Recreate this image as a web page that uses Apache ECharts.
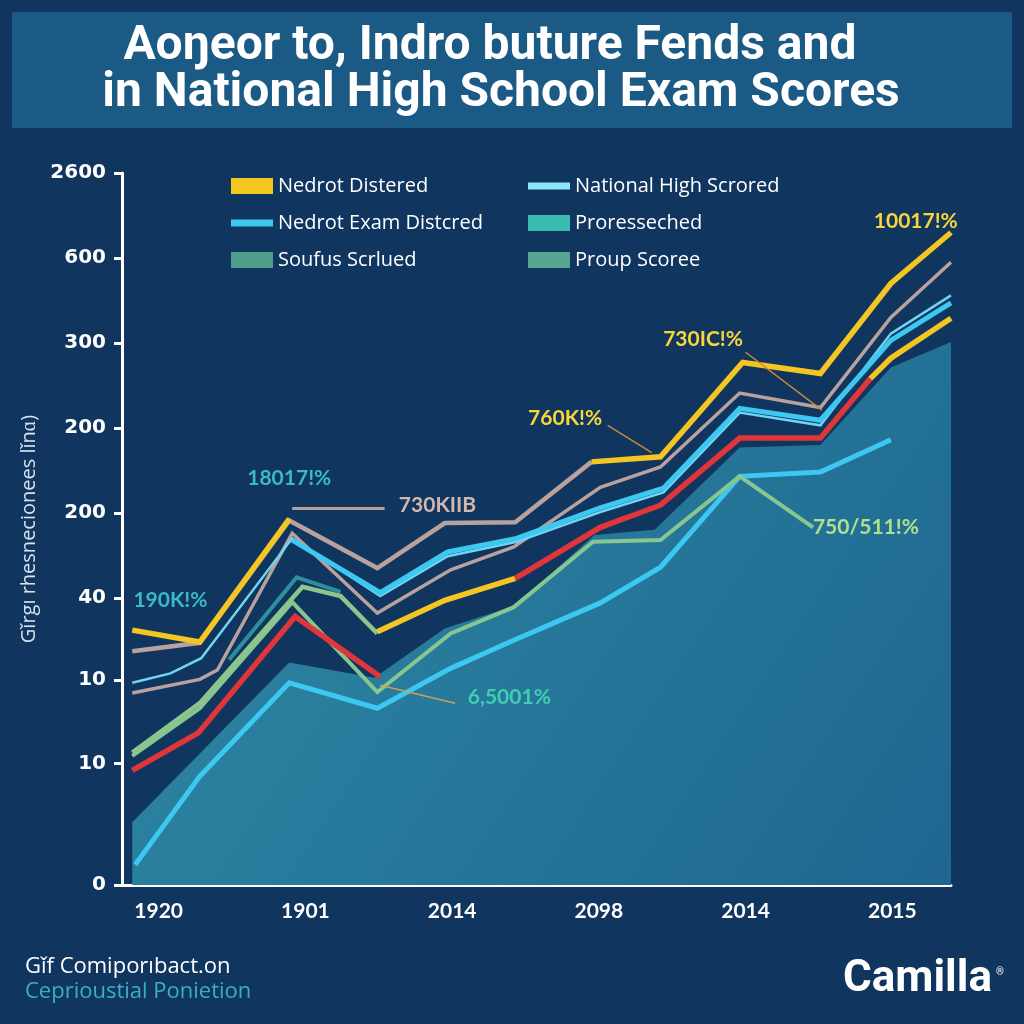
<!DOCTYPE html>
<html><head><meta charset="utf-8">
<script src="https://cdn.jsdelivr.net/npm/echarts@6/dist/echarts.min.js"></script>
<style>html,body{margin:0;padding:0;background:#10355f;}#c{width:1024px;height:1024px;}</style>
</head><body><div id="c"></div>
<script>
// ---- axis ticks ----
const xTickValues = [0, 1, 2, 3, 4, 5];
const xTickLabels = ['1920', '1901', '2014', '2098', '2014', '2015'];
const yTickValues = [0, 1.43, 2.41, 3.38, 4.38, 5.38, 6.38, 7.38, 8.38];
const yTickLabels = ['0', '10', '10', '40', '200', '200', '300', '600', '2600'];

// ---- series values (x position on year scale, y on score scale) ----
const yellowAX = [-0.18, 0.28, 0.89];
const yellowAY = [3.00, 2.86, 4.31];
const yellowBX = [2.95, 3.42, 3.98, 4.51, 4.99, 5.40];
const yellowBY = [4.98, 5.04, 6.15, 6.02, 7.08, 7.68];
const yellowCX = [1.49, 1.95, 2.43];
const yellowCY = [2.98, 3.35, 3.61];
const yellowDX = [4.85, 4.99, 5.40];
const yellowDY = [5.96, 6.20, 6.67];
const taupeAX = [-0.18, 0.28, 0.89, 1.49, 1.95, 2.43, 2.95];
const taupeAY = [2.75, 2.85, 4.29, 3.73, 4.26, 4.27, 4.98];
const taupeBX = [-0.18, 0.28, 0.40, 0.91, 1.49, 1.99, 2.42, 3.01, 3.42, 3.96, 4.51, 4.99, 5.40];
const taupeBY = [2.26, 2.42, 2.53, 4.14, 3.20, 3.71, 3.98, 4.68, 4.92, 5.79, 5.62, 6.68, 7.33];
const cyanX = [0.91, 1.51, 1.97, 2.44, 3.01, 3.44, 3.96, 4.51, 4.99, 5.40];
const cyanY = [4.06, 3.44, 3.92, 4.08, 4.44, 4.67, 5.61, 5.47, 6.41, 6.85];
const nationalX = [-0.18, 0.08, 0.29, 0.91, 1.51, 1.97, 2.44, 3.01, 3.44, 3.96, 4.51, 4.99, 5.40];
const nationalY = [2.38, 2.49, 2.67, 4.08, 3.40, 3.87, 4.04, 4.39, 4.62, 5.56, 5.41, 6.49, 6.94];
const soufusX = [-0.18, 0.28, 0.98, 1.24, 1.49];
const soufusY = [1.56, 2.14, 3.51, 3.40, 2.96];
const redAX = [-0.18, 0.27, 0.93, 1.51];
const redAY = [1.35, 1.79, 3.16, 2.45];
const redBX = [2.43, 3.01, 3.42, 3.96, 4.51, 4.85];
const redBY = [3.61, 4.21, 4.47, 5.26, 5.26, 5.96];
const proupX = [-0.18, 0.28, 0.91, 1.37, 1.49, 1.99, 2.42, 2.96, 3.42, 3.96, 4.46];
const proupY = [1.52, 2.08, 3.33, 2.49, 2.27, 2.96, 3.27, 4.04, 4.06, 4.81, 4.21];
const tealX = [0.48, 0.94, 1.24];
const tealY = [2.65, 3.62, 3.45];
const cyanLowX = [-0.16, 0.28, 0.89, 1.49, 1.99, 2.42, 3.01, 3.42, 3.96, 4.51, 4.99];
const cyanLowY = [0.24, 1.28, 2.38, 2.08, 2.55, 2.88, 3.32, 3.74, 4.81, 4.86, 5.24];
const areaX = [-0.18, 0.89, 1.47, 1.95, 2.43, 2.97, 3.38, 3.96, 4.51, 4.99, 5.40];
const areaY = [0.74, 2.62, 2.44, 3.02, 3.29, 4.12, 4.18, 5.15, 5.18, 6.09, 6.39];

// ---- annotations ----
const noteTexts = ['18017!%', '730KIIB', '190K!%', '760K!%', '730IC!%', '10017!%', '750/511!%', '6,5001%'];
const noteX = [0.89, 1.90, 0.08, 2.77, 3.71, 5.16, 4.82, 2.39];
const noteY = [4.79, 4.47, 3.35, 5.49, 6.42, 7.81, 4.21, 2.21];
const noteColors = ['#3ab9c8', '#d2b6b0', '#3ab9c8', '#f7d63c', '#f7d63c', '#f7d63c', '#b0e08e', '#42cdb2'];
const leaderFromX = [0.91, 3.06, 4.00, 1.51];
const leaderFromY = [4.44, 5.41, 6.27, 2.35];
const leaderToX = [1.54, 3.36, 4.52, 2.02];
const leaderToY = [4.44, 5.09, 5.59, 2.14];
const leaderColors = ['#b9a09b', '#c98a3a', '#c98a3a', '#c8a060'];
const leaderWidths = [3, 1.5, 1.5, 1.5];

const zip = (xs, ys) => xs.map((x, i) => [x, ys[i]]);

function lineSeries(name, xs, ys, color, width) {
  return {
    name: name, type: 'line', data: zip(xs, ys), symbol: 'none', silent: true,
    lineStyle: { color: color, width: width, join: 'miter' }, itemStyle: { color: color },
    clip: false, z: 3
  };
}

const chart = echarts.init(document.getElementById('c'), null, { renderer: 'canvas' });

const notesSeries = {
  name: 'notes', type: 'scatter', silent: true, symbolSize: 0, z: 10,
  itemStyle: { color: '#10355f', opacity: 1 },
  data: noteTexts.map((t, i) => ({
    value: [noteX[i], noteY[i]],
    label: { show: true, position: 'inside', formatter: t, color: noteColors[i], opacity: 1,
      fontFamily: 'Lato', fontWeight: 'bold', fontSize: 21 }
  })),
  markLine: {
    silent: true, symbol: ['none', 'none'], label: { show: false },
    data: leaderFromX.map((x, i) => [
      { coord: [x, leaderFromY[i]], lineStyle: { color: leaderColors[i], width: leaderWidths[i], type: 'solid', opacity: 1 } },
      { coord: [leaderToX[i], leaderToY[i]] }
    ])
  }
};

const legendText = { color: '#ffffff', fontSize: 20, fontFamily: 'Open Sans', lineHeight: 22 };
const thick = 'path://M0 0H42V16H0Z';
const thin = 'path://M0 0H42V7H0Z';

const option = {
  backgroundColor: '#10355f',
  animation: false,
  grid: { left: 122, right: 73, top: 173, bottom: 139, containLabel: false, outerBoundsMode: 'none' },
  legend: [
    { orient: 'vertical', left: 226, top: 170, itemWidth: 42, itemHeight: 16, itemGap: 15,
      textStyle: legendText, selectedMode: false,
      data: [
        { name: 'Nedrot Distered', icon: thick, itemStyle: { color: '#f5c622', borderWidth: 0 } },
        { name: 'Nedrot Exam Distcred', icon: thin, itemStyle: { color: '#3cc8f0', borderWidth: 0 } },
        { name: 'Soufus Scrlued', icon: thick, itemStyle: { color: '#4f9e8b', borderWidth: 0 } }
      ] },
    { orient: 'vertical', left: 523, top: 170, itemWidth: 42, itemHeight: 16, itemGap: 15,
      textStyle: legendText, selectedMode: false,
      data: [
        { name: 'National High Scrored', icon: thin, itemStyle: { color: '#8be6f6', borderWidth: 0 } },
        { name: 'Proresseched', icon: thick, itemStyle: { color: '#3bbcae', borderWidth: 0 } },
        { name: 'Proup Scoree', icon: thick, itemStyle: { color: '#56a58e', borderWidth: 0 } }
      ] }
  ],
  xAxis: {
    type: 'value', min: -0.25, max: 5.40,
    axisLine: { show: true, onZero: false, lineStyle: { color: '#ffffff', width: 3 } },
    axisTick: { show: true, inside: true, length: 8, lineStyle: { color: '#ffffff', width: 3 }, customValues: xTickValues },
    axisLabel: { customValues: xTickValues, margin: 16, color: '#ffffff', fontSize: 21, fontWeight: 'bold',
      fontFamily: 'Lato',
      formatter: v => xTickLabels[Math.round(v)] },
    splitLine: { show: false }
  },
  yAxis: {
    type: 'value', min: 0, max: 8.38,
    name: 'Gǐrgı rhesnecionees lǐnɑ)', nameLocation: 'middle', nameGap: 78, nameRotate: 90,
    nameTextStyle: { color: '#d6e2ee', fontSize: 20, fontFamily: 'Open Sans' },
    axisLine: { show: true, onZero: false, lineStyle: { color: '#ffffff', width: 3 } },
    axisTick: { show: true, inside: false, length: 8, lineStyle: { color: '#ffffff', width: 3 }, customValues: yTickValues },
    axisLabel: { customValues: yTickValues, margin: 16, color: '#ffffff', fontSize: 20, fontWeight: 'bold',
      fontFamily: 'DejaVu Sans',
      formatter: v => {
        let best = 0;
        yTickValues.forEach((t, i) => { if (Math.abs(t - v) < Math.abs(yTickValues[best] - v)) best = i; });
        return yTickLabels[best];
      } },
    splitLine: { show: false }
  },
  series: [
    { name: 'Proresseched', type: 'line', data: zip(areaX, areaY), symbol: 'none', silent: true,
      lineStyle: { width: 0 }, itemStyle: { color: '#3bbcae' }, z: 1,
      areaStyle: { opacity: 1, color: new echarts.graphic.LinearGradient(0, 0, 1, 1, [
        { offset: 0, color: '#2f8aa4' }, { offset: 1, color: '#1e6690' }]) } },
    lineSeries('Nedrot Exam Distcred', cyanLowX, cyanLowY, '#3cc8f0', 5),
    lineSeries('Proup Scoree', proupX, proupY, '#86c690', 4),
    lineSeries('teal', tealX, tealY, '#2d8f9c', 4),
    lineSeries('Soufus Scrlued', soufusX, soufusY, '#8cc68c', 4.5),
    lineSeries('red', redAX, redAY, '#e0363a', 5.5),
    lineSeries('taupe2', taupeBX, taupeBY, '#b9a19e', 3.5),
    lineSeries('National High Scrored', nationalX, nationalY, '#6fd6f2', 2.5),
    lineSeries('Nedrot Exam Distcred', cyanX, cyanY, '#3cc8f0', 5),
    lineSeries('taupe1', taupeAX, taupeAY, '#b9a19e', 4.5),
    lineSeries('Nedrot Distered', yellowAX, yellowAY, '#f5c622', 5.5),
    lineSeries('Nedrot Distered', yellowCX, yellowCY, '#f5c622', 5.5),
    lineSeries('red', redBX, redBY, '#e0363a', 5.5),
    lineSeries('Nedrot Distered', yellowDX, yellowDY, '#f5c622', 5.5),
    lineSeries('Nedrot Distered', yellowBX, yellowBY, '#f5c622', 5.5),
    notesSeries
  ],
  graphic: [
    { type: 'rect', shape: { x: 12, y: 12, width: 1000, height: 116 }, style: { fill: '#1b5a85' }, z: 0 },
    { type: 'text', x: 490, y: 47, style: { text: 'Aoŋeor to, Indro buture Fends and', fill: '#ffffff',
      fontSize: 48, fontWeight: 'bold', fontFamily: 'Roboto', align: 'center', verticalAlign: 'middle' } },
    { type: 'text', x: 501, y: 94, style: { text: 'in National High School Exam Scores', fill: '#ffffff',
      fontSize: 48, fontWeight: 'bold', fontFamily: 'Roboto', align: 'center', verticalAlign: 'middle' } },
    { type: 'text', x: 25, y: 967, style: { text: 'Gǐf Comiporıbact.on', fill: '#ffffff',
      fontSize: 22, fontFamily: 'Open Sans', verticalAlign: 'middle' } },
    { type: 'text', x: 25, y: 992, style: { text: 'Ceprioustial Ponietion', fill: '#3aaec6',
      fontSize: 22, fontFamily: 'Open Sans', verticalAlign: 'middle' } },
    { type: 'text', x: 843, y: 980, style: { text: 'Camilla', fill: '#ffffff',
      fontSize: 44, fontWeight: 'bold', fontFamily: 'Roboto', verticalAlign: 'middle' } },
    { type: 'text', x: 996, y: 972, style: { text: '®', fill: '#ffffff',
      fontSize: 10, fontFamily: 'Roboto', verticalAlign: 'middle' } }
  ]
};
chart.setOption(option);
</script>
</body></html>
